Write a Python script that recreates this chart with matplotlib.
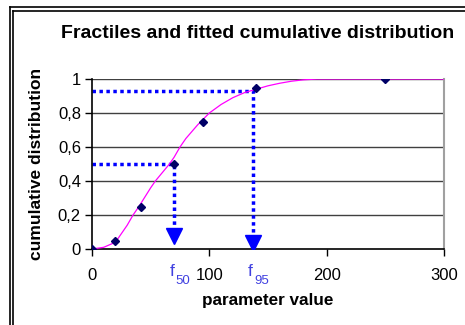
import numpy as np
import matplotlib.pyplot as plt
from matplotlib.lines import Line2D

plt.rcParams['font.family'] = ['Liberation Sans', 'DejaVu Sans']

# fractiles (parameter value, cumulative probability)
frac_x = [0, 20, 42, 70, 95, 140, 250]
frac_y = [0, 0.05, 0.25, 0.5, 0.75, 0.95, 1.0]

# fitted cumulative distribution
curve_x = [0, 10, 20, 30, 35, 40, 50, 54, 60, 66, 70, 75, 80, 90, 100, 110, 120,
           130, 140, 150, 160, 170, 180, 192, 300]
curve_y = [0, 0.01, 0.04, 0.14, 0.2, 0.25, 0.36, 0.4, 0.45, 0.5, 0.54, 0.6, 0.65,
           0.73, 0.8, 0.85, 0.89, 0.92, 0.94, 0.96, 0.975, 0.987, 0.995, 1.0, 1.0]

# read-off guides for the 50% and 95% fractiles
f50 = (70, 0.5)
f95 = (137, 0.93)

xticks = [0, 100, 200, 300]
yticks = [0, 0.2, 0.4, 0.6, 0.8, 1.0]
ytick_labels = ['0', '0,2', '0,4', '0,6', '0,8', '1']

fig = plt.figure(figsize=(4.65, 3.25), dpi=100)
ax = fig.add_axes([92 / 465, 76 / 325, 352 / 465, 170 / 325])

# chart frame (double line on the left and top)
for x, y in [(10, 7), (13, 11)]:
    fig.add_artist(Line2D([x / 465, x / 465], [0, 1 - y / 325], color='black', lw=1.2))
    fig.add_artist(Line2D([x / 465, 1], [1 - y / 325, 1 - y / 325], color='black', lw=1.2))

ax.set_xlim(0, 300)
ax.set_ylim(0, 1)
for y in yticks[1:]:
    ax.axhline(y, color='#404040', lw=1.0, zorder=1)

ax.plot(curve_x, curve_y, color='#ff00ff', lw=0.9, zorder=3)

blue = '#0000ff'
ax.plot([0, f50[0], f50[0]], [f50[1], f50[1], 0.09], color=blue, lw=2.5,
        ls=(0, (1, 1)), zorder=2)
ax.plot([0, f95[0], f95[0]], [f95[1], f95[1], 0.06], color=blue, lw=2.5,
        ls=(0, (1, 1)), zorder=2)
ax.plot([f50[0]], [0.075], marker='v', ms=12, color=blue, mec=blue, zorder=4)
ax.plot([f95[0]], [0.035], marker='v', ms=12, color=blue, mec=blue, zorder=4)

ax.plot(frac_x, frac_y, ls='none', marker='D', ms=4.5, color='#000066', zorder=5)

ax.set_xticks(xticks)
ax.set_xticklabels([str(t) for t in xticks])
ax.set_yticks(yticks)
ax.set_yticklabels(ytick_labels)
ax.tick_params(labelsize=12, length=5, width=1, direction='out', color='black', pad=3)
ax.tick_params(axis='x', pad=9)

ax.spines['top'].set_visible(False)
ax.spines['right'].set_color('#a0a0a0')
ax.spines['right'].set_linewidth(1.5)
ax.spines['left'].set_linewidth(1.2)
ax.spines['bottom'].set_linewidth(1.2)

lab = '#4040e0'
for (fx, _), sub in [(f50, '50'), (f95, '95')]:
    ax.text(fx - 2, -0.09, 'f', color=lab, fontsize=12.5, ha='center', va='top',
            clip_on=False)
    ax.text(fx + 1, -0.15, sub, color=lab, fontsize=9.5, ha='left', va='top',
            clip_on=False)

ax.set_xlabel('parameter value', fontsize=12.3, fontweight='bold', labelpad=7)
ax.set_ylabel('cumulative distribution', fontsize=12.5, fontweight='bold', labelpad=10)
fig.text(258 / 465, 1 - 33 / 325, 'Fractiles and fitted cumulative distribution',
         fontsize=14, fontweight='bold', ha='center', va='center')

fig.savefig('out.png', dpi=100)
